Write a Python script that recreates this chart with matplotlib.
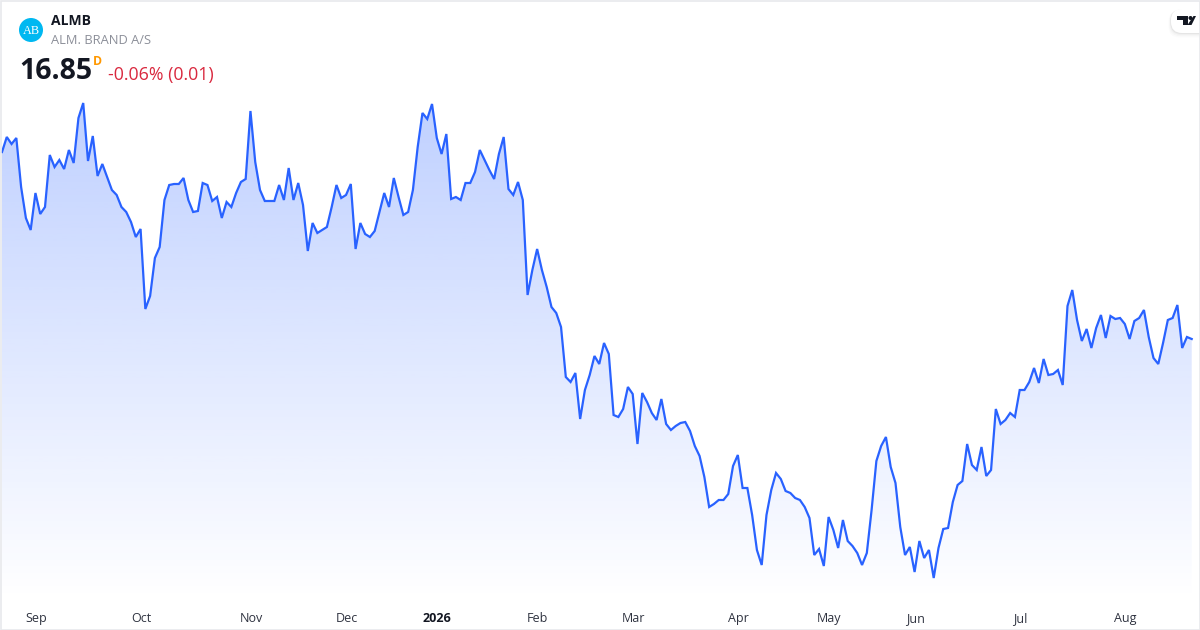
import numpy as np
import matplotlib
matplotlib.use('Agg')
import matplotlib.pyplot as plt
from matplotlib.patches import Circle, FancyBboxPatch, Polygon, Rectangle

# daily closes (no price axis shown, last close is 16.85)
prices = [
    18.72,18.87,18.80,18.86,18.37,18.06,17.94,18.31,18.10,18.17,
    18.69,18.57,18.64,18.55,18.74,18.61,19.06,19.21,18.63,18.88,
    18.48,18.60,18.47,18.34,18.29,18.17,18.12,18.02,17.87,17.95,
    17.15,17.28,17.66,17.77,18.24,18.39,18.40,18.40,18.46,18.24,
    18.12,18.13,18.41,18.39,18.23,18.27,18.06,18.22,18.17,18.31,
    18.42,18.45,19.13,18.62,18.34,18.23,18.23,18.23,18.39,18.24,
    18.56,18.24,18.41,18.19,17.73,18.01,17.91,17.94,17.97,18.17,
    18.39,18.26,18.29,18.40,17.75,18.01,17.90,17.87,17.93,18.12,
    18.31,18.17,18.46,18.27,18.09,18.12,18.34,18.77,19.11,19.05,
    19.20,18.86,18.70,18.90,18.25,18.27,18.24,18.41,18.41,18.52,
    18.74,18.64,18.54,18.45,18.70,18.87,18.35,18.29,18.42,18.24,
    17.29,17.54,17.75,17.54,17.37,17.17,17.11,16.97,16.47,16.42,
    16.51,16.05,16.34,16.49,16.68,16.60,16.81,16.70,16.09,16.07,
    16.15,16.37,16.30,15.80,16.31,16.22,16.11,16.04,16.25,16.00,
    15.94,15.98,16.01,16.02,15.93,15.78,15.68,15.47,15.17,15.20,
    15.24,15.24,15.30,15.58,15.69,15.36,15.36,15.09,14.74,14.59,
    15.09,15.34,15.51,15.45,15.33,15.31,15.26,15.24,15.17,15.06,
    14.69,14.75,14.58,15.07,14.94,14.76,15.04,14.83,14.78,14.71,
    14.59,14.71,15.14,15.63,15.78,15.87,15.57,15.41,14.97,14.69,
    14.77,14.52,14.83,14.66,14.74,14.46,14.76,14.95,14.96,15.22,
    15.39,15.43,15.80,15.59,15.54,15.77,15.48,15.54,16.15,16.00,
    16.04,16.11,16.07,16.34,16.34,16.42,16.56,16.41,16.65,16.49,
    16.50,16.54,16.39,17.18,17.34,17.04,16.83,16.95,16.76,16.96,
    17.09,16.86,17.08,17.05,17.06,17.00,16.85,17.03,17.06,17.14,
    16.87,16.66,16.60,16.81,17.04,17.06,17.19,16.76,16.87,16.85,
]
tick_idx = [7, 29, 52, 72, 91, 112, 132, 154, 173, 191, 213, 235]
tick_labels = ['Sep', 'Oct', 'Nov', 'Dec', '2026', 'Feb', 'Mar', 'Apr', 'May', 'Jun', 'Jul', 'Aug']

plt.rcParams['font.family'] = ['Open Sans', 'Noto Sans', 'DejaVu Sans']

W, H = 1200, 630
fig = plt.figure(figsize=(W / 100, H / 100), dpi=100, facecolor='white')

# chart axes fills the figure, 1px = 0.01 in price, 1 bar = 4.778px
ax = fig.add_axes([0, 0, 1, 1])
step = 4.778
x0 = 2.0
ax.set_xlim(-x0 / step, (W - x0) / step)
ax.set_ylim(20.24 - H / 100, 20.24)
ax.axis('off')

x = np.arange(len(prices))
y = np.array(prices)

# area gradient, clipped to the region under the line
grad = np.linspace(0, 1, 256).reshape(-1, 1)
rgba = np.zeros((256, 1, 4))
rgba[..., 0] = 41 / 255
rgba[..., 1] = 98 / 255
rgba[..., 2] = 1.0
rgba[..., 3] = 0.30 * (1 - grad)
floor = 20.24 - 6.0
im = ax.imshow(rgba, extent=[x[0], x[-1], floor, 20.24 - 1.0], aspect='auto', zorder=1, interpolation='bilinear')
ax.set_xlim(-x0 / step, (W - x0) / step)
ax.set_ylim(20.24 - H / 100, 20.24)
clip = Polygon(np.column_stack([np.r_[x, x[-1], x[0]], np.r_[y, floor, floor]]), transform=ax.transData, fc='none', ec='none')
ax.add_patch(clip)
im.set_clip_path(clip)

ax.plot(x, y, color='#2962FF', lw=1.6, solid_joinstyle='miter', zorder=3)

for i, lab in zip(tick_idx, tick_labels):
    ax.text(i + 0.1, 20.24 - 6.185, lab, ha='center', va='center', fontsize=9, color='#131722' if lab == '2026' else '#2f3340',
            fontweight='bold' if lab == '2026' else 'normal', zorder=4)

# header and decorations live in a pixel overlay
ov = fig.add_axes([0, 0, 1, 1], facecolor='none')
ov.set_xlim(0, W)
ov.set_ylim(H, 0)
ov.axis('off')

ov.add_patch(Circle((31, 30), 12, fc='#00B8F1', ec='none'))
ov.text(31, 30.5, 'AB', ha='center', va='center', fontsize=8.8, color='white', family='Liberation Serif')
ov.text(51, 21, 'ALMB', ha='left', va='center', fontsize=10, fontweight='bold', color='#131722')
ov.text(51, 40.5, 'ALM. BRAND A/S', ha='left', va='center', fontsize=9.3, color='#8c8f99')
ov.text(19, 71.5, '16.85', ha='left', va='center', fontsize=20.5, fontweight='bold', color='#131722')
ov.text(93, 61.5, 'D', ha='left', va='center', fontsize=8.8, fontweight='bold', color='#FF9800')
ov.text(108, 75, '-0.06% (0.01)', ha='left', va='center', fontsize=12.8, color='#D9283E')

# TradingView badge: soft shadow, white pill, logo
for k, a in zip([5, 3.5, 2, 1], [0.015, 0.02, 0.03, 0.04]):
    ov.add_patch(FancyBboxPatch((1171 - k * 0.5, 9 + k * 0.3), 40 + k, 24 + k * 0.6, boxstyle='round,pad=0,rounding_size=11',
                                fc='black', ec='none', alpha=a))
ov.add_patch(FancyBboxPatch((1171, 9), 45, 24, boxstyle='round,pad=0,rounding_size=11', fc='white', ec='none'))
ov.add_patch(Polygon([(1177, 16), (1187.5, 16), (1187.5, 25), (1182.5, 25), (1182.5, 20), (1177, 20)], fc='#131722', ec='none'))
ov.add_patch(Circle((1190.5, 18), 2, fc='#131722', ec='none'))
ov.add_patch(Polygon([(1193.5, 16), (1196, 16), (1191.5, 25), (1187.5, 25)], fc='#131722', ec='none'))

# card border
ov.add_patch(Rectangle((0.5, 0.5), W - 1, H - 1, fc='none', ec='#E8E9EC', lw=1.2))

fig.savefig('out.png', dpi=100, facecolor='white')
